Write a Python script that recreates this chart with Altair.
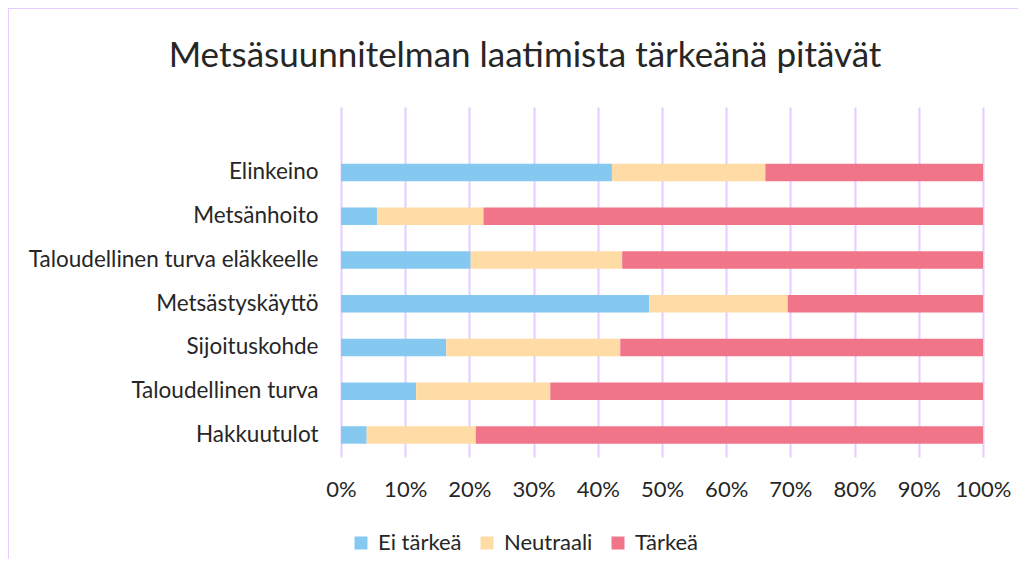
import altair as alt
import pandas as pd

categories = [
    "Elinkeino",
    "Metsänhoito",
    "Taloudellinen turva eläkkeelle",
    "Metsästyskäyttö",
    "Sijoituskohde",
    "Taloudellinen turva",
    "Hakkuutulot",
]
series = ["Ei tärkeä", "Neutraali", "Tärkeä"]
ei_tarkea = [42.2, 5.6, 20.2, 48.0, 16.4, 11.7, 4.0]
neutraali = [23.9, 16.6, 23.6, 21.6, 27.1, 20.9, 17.0]
tarkea = [33.9, 77.8, 56.2, 30.4, 56.5, 67.4, 79.0]
colors = ["#85C8F0", "#FFDBA6", "#F17588"]
title_text = "Metsäsuunnitelman laatimista tärkeänä pitävät"

rows = []
for i, c in enumerate(categories):
    for j, (s, vals) in enumerate(zip(series, [ei_tarkea, neutraali, tarkea])):
        rows.append({"kategoria": c, "sarja": s, "arvo": vals[i], "jarj": j})
df = pd.DataFrame(rows)

FONT = "Lato"
TXT = "#262626"
GRID = "#E6CCFF"
LBL = 22

bars = alt.Chart(df).mark_bar().encode(
    x=alt.X(
        "arvo:Q",
        stack="normalize",
        scale=alt.Scale(domain=[0, 1], nice=False),
        axis=alt.Axis(
            format=".0%",
            values=[i / 10 for i in range(11)],
            title=None,
            grid=True,
            gridColor=GRID,
            gridWidth=2,
            ticks=False,
            domain=False,
            labelFlush=False,
            labelFont=FONT,
            labelFontSize=LBL,
            labelColor=TXT,
            labelPadding=22,
        ),
    ),
    y=alt.Y(
        "kategoria:N",
        sort=categories,
        scale=alt.Scale(paddingInner=0.6, paddingOuter=0.8, align=0.81),
        axis=alt.Axis(
            title=None,
            ticks=False,
            domain=False,
            labelFont=FONT,
            labelFontSize=22.5,
            labelColor=TXT,
            labelPadding=23,
            labelLimit=400,
        ),
    ),
    color=alt.Color(
        "sarja:N",
        sort=series,
        scale=alt.Scale(domain=series, range=colors),
        legend=alt.Legend(
            title=None,
            orient="none",
            legendX=9,
            legendY=425,
            direction="horizontal",
            symbolType="square",
            symbolSize=169,
            symbolStrokeWidth=0,
            labelFont=FONT,
            labelFontSize=LBL,
            labelColor=TXT,
            columnPadding=14,
            labelOffset=6,
        ),
    ),
    order=alt.Order("jarj:Q"),
)

border = alt.Chart(alt.Data(values=[{}])).mark_rect(
    filled=False, stroke=GRID, strokeWidth=2
).encode(
    x=alt.value(-333), x2=alt.value(800), y=alt.value(-99), y2=alt.value(700)
)

title = alt.Chart(alt.Data(values=[{}])).mark_text(
    font=FONT, fontSize=35, color=TXT, align="center", baseline="middle"
).encode(
    x=alt.value(184), y=alt.value(-51), text=alt.value(title_text)
)

chart = (
    alt.layer(border, bars, title)
    .properties(
        width=642,
        height=350,
        padding={"left": 333, "top": 99, "right": 35, "bottom": 102},
        autosize=alt.AutoSizeParams(type="none"),
    )
    .configure_view(stroke=None)
)

chart.save("out.html", embed_options={"renderer": "svg", "actions": False})
